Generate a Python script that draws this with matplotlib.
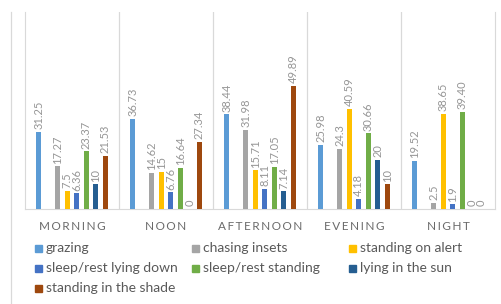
import matplotlib

matplotlib.use("Agg")
import matplotlib.pyplot as plt
import numpy as np
from matplotlib.patches import Rectangle
from matplotlib.lines import Line2D

periods = ["MORNING", "NOON", "AFTERNOON", "EVENING", "NIGHT"]
behaviours = [
    "grazing",
    "chasing insets",
    "standing on alert",
    "sleep/rest lying down",
    "sleep/rest standing",
    "lying in the sun",
    "standing in the shade",
]
colors = ["#5B9BD5", "#A5A5A5", "#FFC000", "#4472C4", "#70AD47", "#255E91", "#9E480E"]

grazing = [31.25, 36.73, 38.44, 25.98, 19.52]
chasing = [17.27, 14.62, 31.98, 24.3, 2.5]
alert = [7.5, 15, 15.71, 40.59, 38.65]
lying_down = [6.36, 6.76, 8.11, 4.18, 1.9]
rest_standing = [23.37, 16.64, 17.05, 30.66, 39.40]
sun = [10, 0, 7.14, 20, 0]
shade = [21.53, 27.34, 49.89, 10, 0]
values = [grazing, chasing, alert, lying_down, rest_standing, sun, shade]

# label text as printed on the chart
labels = [
    ["31.25", "36.73", "38.44", "25.98", "19.52"],
    ["17.27", "14.62", "31.98", "24.3", "2.5"],
    ["7.5", "15", "15.71", "40.59", "38.65"],
    ["6.36", "6.76", "8.11", "4.18", "1.9"],
    ["23.37", "16.64", "17.05", "30.66", "39.40"],
    ["10", "0", "7.14", "20", "0"],
    ["21.53", "27.34", "49.89", "10", "0"],
]
# the second slot in each group is empty in the original
slots = [0, 2, 3, 4, 5, 6, 7]

plt.rcParams["font.family"] = ["Lato", "DejaVu Sans"]

fig = plt.figure(figsize=(5.02, 3.04), dpi=100)
ax = fig.add_axes([25 / 502, 95 / 304, 470 / 502, 197 / 304])

x = np.arange(len(periods))
step = 0.101
width = 0.055
for vals, labs, slot, color in zip(values, labels, slots, colors):
    pos = x + (slot - 3.5) * step
    bars = ax.bar(pos, vals, width=width, color=color, zorder=3)
    for b, lab in zip(bars, labs):
        ax.annotate(
            lab,
            (b.get_x() + b.get_width() / 2, b.get_height()),
            xytext=(0, 2),
            textcoords="offset points",
            rotation=90,
            ha="center",
            va="bottom",
            fontsize=8,
            color="#959595",
        )

ax.set_xlim(-0.5, len(periods) - 0.5)
ax.set_ylim(0, 80)
ax.set_yticks([])
ax.set_xticks(x)
ax.set_xticklabels(["\u2009".join(p) for p in periods], fontsize=8.5, color="#6A6A6A")
ax.tick_params(axis="x", length=0, pad=9)
for b in np.arange(0.5, len(periods) - 0.5):
    ax.axvline(b, color="#D9D9D9", lw=0.9, zorder=1)
for side in ["left", "right", "bottom"]:
    ax.spines[side].set_color("#D9D9D9")
ax.spines["top"].set_visible(False)

# outer chart border
fig.add_artist(Line2D([11 / 502, 11 / 502], [0, 292 / 304], color="#D9D9D9", lw=0.9))

# legend laid out in a fixed 3-column grid
for i, (name, color) in enumerate(zip(behaviours, colors)):
    col, row = i % 3, i // 3
    x0 = (35 + col * 157) / 502
    y0 = (304 - 248 - row * 20) / 304
    fig.add_artist(Rectangle((x0, y0 - 3.5 / 304), 7 / 502, 7 / 304, color=color, transform=fig.transFigure))
    fig.text(x0 + 11 / 502, y0, name, fontsize=10, color="#595959", va="center", ha="left")

fig.savefig("out.png")
